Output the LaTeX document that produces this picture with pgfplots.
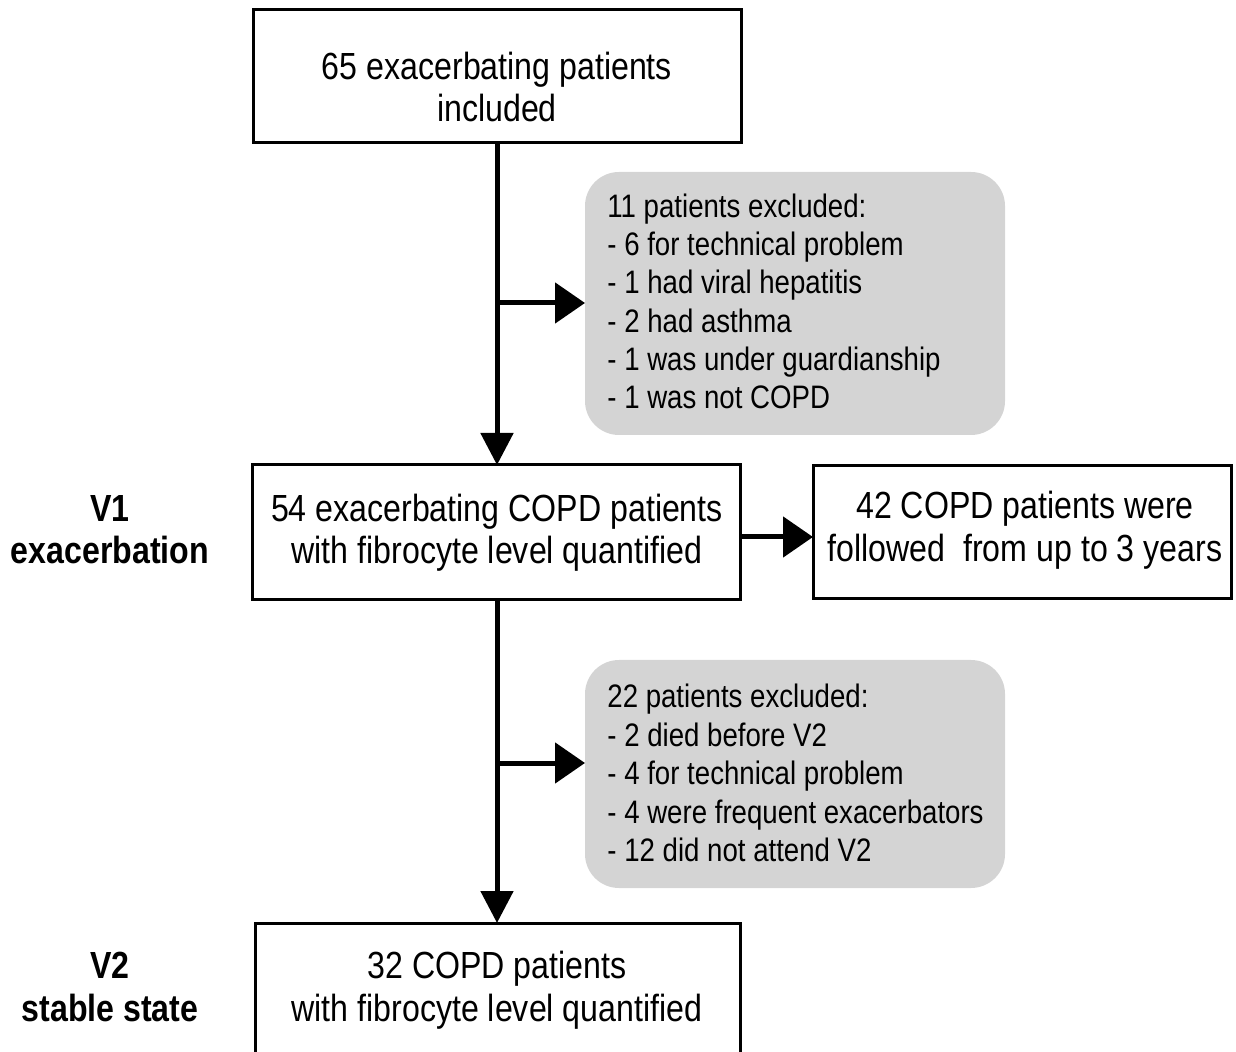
\documentclass[border=0pt]{standalone}
\usepackage{pgfplots}
\pgfplotsset{compat=1.18}
\usepackage{fontspec}
\setmainfont{Liberation Sans}[FakeStretch=0.85]
\usetikzlibrary{arrows.meta}
\definecolor{boxgray}{HTML}{D4D4D4}
\newcommand{\mainfs}{\fontsize{18.9pt}{22pt}\selectfont}
\newcommand{\grayfs}{\fontsize{16.25pt}{19.25pt}\selectfont}
\begin{document}
\begin{tikzpicture}
\begin{axis}[
  scale only axis, width=618pt, height=526pt,
  xmin=0, xmax=1236, ymin=0, ymax=1052, y dir=reverse,
  hide axis, clip=false,
]
% gray exclusion boxes
\fill[boxgray, rounded corners=17pt] (axis cs:585,172) rectangle (axis cs:1005,435);
\fill[boxgray, rounded corners=17pt] (axis cs:585,660) rectangle (axis cs:1005,888);
% white boxes
\draw[line width=1.5pt] (axis cs:253,10) rectangle (axis cs:741,143);
\draw[line width=1.5pt] (axis cs:252,465) rectangle (axis cs:740,600);
\draw[line width=1.5pt] (axis cs:813,466) rectangle (axis cs:1231,599);
\draw[line width=1.5pt] (axis cs:255,1060) -- (axis cs:255,923) -- (axis cs:740,923) -- (axis cs:740,1060);
% arrows
\draw[line width=2.5pt, -{Triangle[length=16pt,width=16pt]}] (axis cs:497,143) -- (axis cs:497,465);
\draw[line width=2.5pt, -{Triangle[length=15pt,width=20pt]}] (axis cs:497,303) -- (axis cs:585,303);
\draw[line width=2.5pt, -{Triangle[length=15pt,width=20pt]}] (axis cs:740,537) -- (axis cs:813,537);
\draw[line width=2.5pt, -{Triangle[length=16pt,width=16pt]}] (axis cs:497,600) -- (axis cs:497,923);
\draw[line width=2.5pt, -{Triangle[length=15pt,width=20pt]}] (axis cs:497,763) -- (axis cs:585,763);
% box texts
\node[anchor=base, inner sep=0pt, font=\mainfs] at (axis cs:497,80) {65 exacerbating patients};
\node[anchor=base, inner sep=0pt, font=\mainfs] at (axis cs:497,122) {included};
\node[anchor=base, inner sep=0pt, font=\mainfs] at (axis cs:497,522) {54 exacerbating COPD patients};
\node[anchor=base, inner sep=0pt, font=\mainfs] at (axis cs:497,564) {with fibrocyte level quantified};
\node[anchor=base, inner sep=0pt, font=\mainfs] at (axis cs:1025,519) {42 COPD patients were};
\node[anchor=base, inner sep=0pt, font=\mainfs] at (axis cs:1025,562) {followed\ \ from up to 3 years};
\node[anchor=base, inner sep=0pt, font=\mainfs] at (axis cs:497,978) {32 COPD patients};
\node[anchor=base, inner sep=0pt, font=\mainfs] at (axis cs:497,1021) {with fibrocyte level quantified};
% left labels
\node[anchor=base, inner sep=0pt, font=\mainfs\bfseries] at (axis cs:110,522) {V1};
\node[anchor=base, inner sep=0pt, font=\mainfs\bfseries] at (axis cs:110,564) {exacerbation};
\node[anchor=base, inner sep=0pt, font=\mainfs\bfseries] at (axis cs:110,978) {V2};
\node[anchor=base, inner sep=0pt, font=\mainfs\bfseries] at (axis cs:110,1021) {stable state};
% gray box texts
\node[anchor=base west, inner sep=0pt, font=\grayfs] at (axis cs:607,218) {11 patients excluded:};
\node[anchor=base west, inner sep=0pt, font=\grayfs] at (axis cs:607,256) {- 6 for technical problem};
\node[anchor=base west, inner sep=0pt, font=\grayfs] at (axis cs:607,294) {- 1 had viral hepatitis};
\node[anchor=base west, inner sep=0pt, font=\grayfs] at (axis cs:607,333) {- 2 had asthma};
\node[anchor=base west, inner sep=0pt, font=\grayfs] at (axis cs:607,371) {- 1 was under guardianship};
\node[anchor=base west, inner sep=0pt, font=\grayfs] at (axis cs:607,409) {- 1 was not COPD};
\node[anchor=base west, inner sep=0pt, font=\grayfs] at (axis cs:607,707) {22 patients excluded:};
\node[anchor=base west, inner sep=0pt, font=\grayfs] at (axis cs:607,746) {- 2 died before V2};
\node[anchor=base west, inner sep=0pt, font=\grayfs] at (axis cs:607,784) {- 4 for technical problem};
\node[anchor=base west, inner sep=0pt, font=\grayfs] at (axis cs:607,823) {- 4 were frequent exacerbators};
\node[anchor=base west, inner sep=0pt, font=\grayfs] at (axis cs:607,861) {- 12 did not attend V2};
\end{axis}
\pgfresetboundingbox
\useasboundingbox (current axis.south west) rectangle (current axis.north east);
\end{tikzpicture}
\end{document}
